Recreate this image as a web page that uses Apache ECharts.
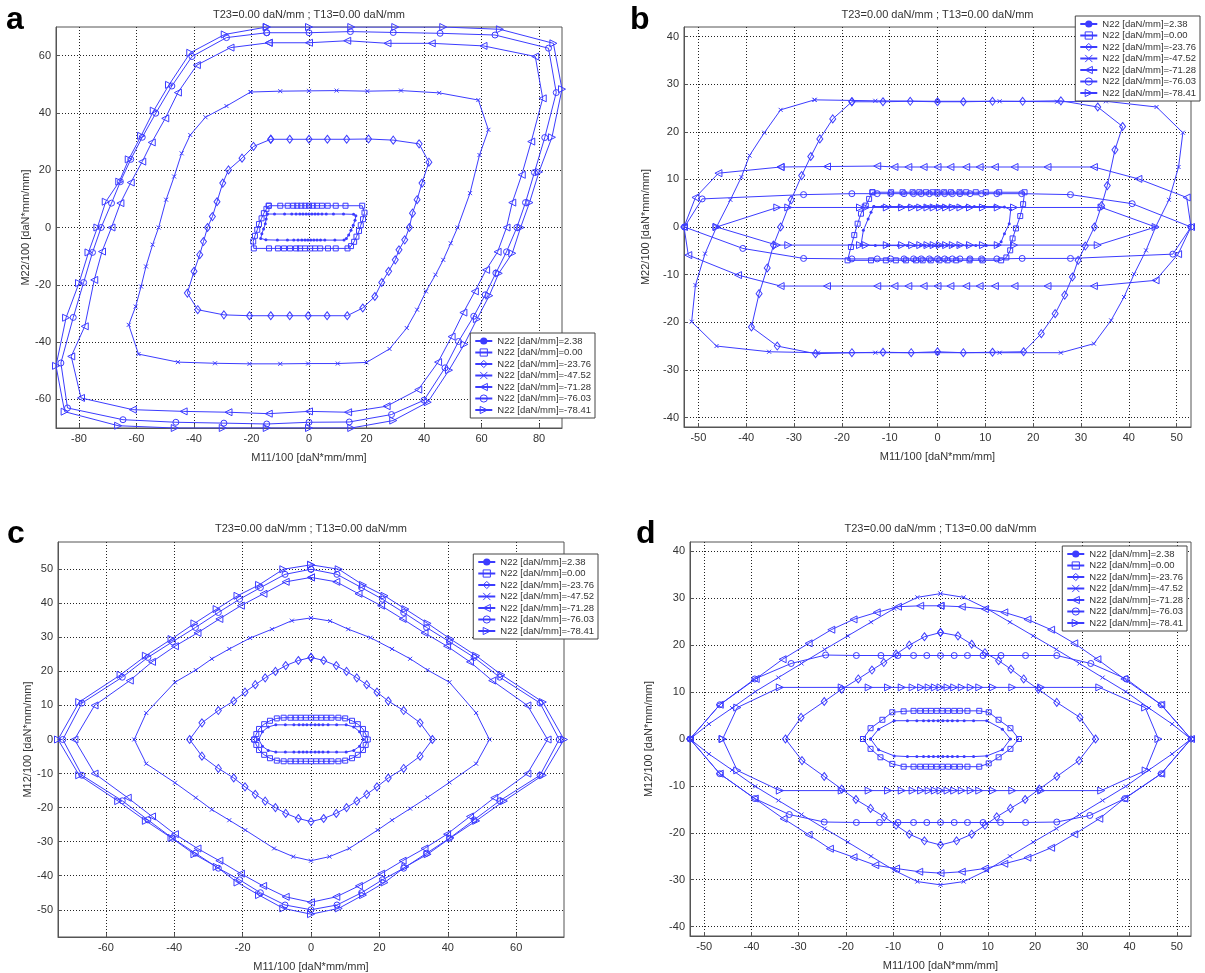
<!DOCTYPE html>
<html>
<head>
<meta charset="utf-8">
<script src="https://cdn.jsdelivr.net/npm/echarts@6/dist/echarts.min.js"></script>
<style>
  html, body { margin: 0; padding: 0; background: #fff; }
  #chart { width: 1205px; height: 973px; }
</style>
</head>
<body>
<div id="chart"></div>
<script>
// Four interaction diagrams (a–d), seven N22 levels each, MATLAB-style look

// ── Data ────────────────────────────────────────────────────────────────
const seriesNames = [
  'N22 [daN/mm]=2.38', 'N22 [daN/mm]=0.00', 'N22 [daN/mm]=-23.76', 'N22 [daN/mm]=-47.52',
  'N22 [daN/mm]=-71.28', 'N22 [daN/mm]=-76.03', 'N22 [daN/mm]=-78.41'
];
const panelTitle = 'T23=0.00 daN/mm ; T13=0.00 daN/mm';
const xName = 'M11/100 [daN*mm/mm]';
const yNameTop = 'M22/100 [daN*mm/mm]';
const yNameBottom = 'M12/100 [daN*mm/mm]';

// axis ranges and tick labels
const a_xRange = [-88, 88], a_yRange = [-70, 70];
const b_xRange = [-53, 53], b_yRange = [-42, 42];
const c_xRange = [-74, 74], c_yRange = [-58, 58];
const d_xRange = [-53, 53], d_yRange = [-42, 42];
const a_xTicks = [-80, -60, -40, -20, 0, 20, 40, 60, 80];
const a_yTicks = [-60, -40, -20, 0, 20, 40, 60];
const b_xTicks = [-50, -40, -30, -20, -10, 0, 10, 20, 30, 40, 50];
const b_yTicks = [-40, -30, -20, -10, 0, 10, 20, 30, 40];
const c_xTicks = [-60, -40, -20, 0, 20, 40, 60];
const c_yTicks = [-50, -40, -30, -20, -10, 0, 10, 20, 30, 40, 50];
const d_xTicks = [-50, -40, -30, -20, -10, 0, 10, 20, 30, 40, 50];
const d_yTicks = [-40, -30, -20, -10, 0, 10, 20, 30, 40];

// panel a : M11 vs M22
const a_n238 = [[-14.5,4.7],[-12,4.7],[-8.5,4.7],[-6,4.7],[-4.5,4.7],[-3.2,4.7],[-2.1,4.7],[-1,4.7],[0,4.7],[1,4.7],[2.1,4.7],[3.2,4.7],[4.5,4.7],[6,4.7],[8.5,4.7],[12,4.7],[15.5,4.6],[16.3,4.1],[16,2.5],[15.4,0.8],[14.6,-1],[13.8,-2.6],[13,-3.8],[12.2,-4.4],[9,-4.4],[5.5,-4.4],[4,-4.4],[2.8,-4.4],[1.7,-4.4],[0.6,-4.4],[-0.4,-4.4],[-1.4,-4.4],[-2.5,-4.4],[-3.8,-4.4],[-5.3,-4.4],[-7.5,-4.4],[-11,-4.4],[-15,-4.3],[-16.8,-3.8],[-16.4,-2.2],[-15.8,-0.5],[-15.2,1.3],[-14.9,3],[-14.5,4.7]];
const a_n000 = [[-14,7.6],[-10,7.6],[-7.4,7.6],[-5.5,7.6],[-4.1,7.6],[-2.7,7.6],[-1.3,7.6],[0,7.6],[1.3,7.6],[2.8,7.6],[4.5,7.6],[6.5,7.6],[9.3,7.6],[12.7,7.6],[18.5,7.6],[19.3,5.2],[18.8,2.9],[18,0.8],[17.4,-1.2],[16.5,-3.2],[15.7,-5],[14.6,-6.5],[13.4,-7.3],[9.3,-7.3],[6.6,-7.3],[3.9,-7.3],[2.1,-7.3],[0.4,-7.3],[-1.4,-7.3],[-3.1,-7.3],[-4.5,-7.3],[-6.6,-7.3],[-8.7,-7.3],[-10.8,-7.3],[-13.9,-7.3],[-19.2,-7.3],[-19.4,-4.9],[-18.8,-2.9],[-18,-0.8],[-17.4,1.2],[-16.5,3.2],[-15.7,5],[-14.8,6.5],[-14,7.6]];
const a_n2376 = [[-13.3,30.8],[-6.7,30.8],[0,30.8],[6.4,30.8],[13.1,30.8],[20.7,30.9],[29.3,30.5],[38.3,29.2],[41.7,22.8],[39.3,15.5],[37.6,9.7],[36,5],[34.9,0],[33.3,-4.3],[31.3,-7.8],[30,-11.3],[27.7,-15.3],[25.3,-19.2],[22.9,-24.1],[18.7,-28.1],[13.3,-30.8],[6.3,-30.8],[-0.3,-30.8],[-6.7,-30.8],[-13.3,-30.8],[-20.7,-30.8],[-29.6,-30.5],[-38.7,-28.7],[-42.3,-22.9],[-40,-15.3],[-38,-9.5],[-36.7,-4.9],[-35.3,0],[-33.6,3.8],[-32,9],[-30,15.5],[-28,20.1],[-23.3,24.2],[-19.3,28.3],[-13.3,30.8]];
const a_n4752 = [[-20.3,47.3],[-10,47.6],[0,47.7],[9.6,47.8],[20.3,47.6],[32,47.8],[45.3,47],[58.9,44.5],[62.4,34.1],[59.3,25.3],[56,12],[51.7,0],[49.3,-5.5],[46.7,-11.3],[44,-16.5],[40.7,-22.3],[37.6,-28.7],[34,-35.1],[28,-42.4],[20,-47.1],[10,-47.5],[-0.3,-47.5],[-10,-47.6],[-20.7,-47.6],[-32.7,-47.4],[-45.6,-47],[-59.3,-44.2],[-62.7,-34],[-60.3,-27.6],[-58.4,-20.6],[-56.7,-13.6],[-54.4,-6],[-52.3,0],[-49.7,9.7],[-46.9,17.8],[-44.3,25.9],[-41.3,32.3],[-36,38.5],[-28.7,42.4],[-20.3,47.3]];
const a_n7128 = [[-14,64.5],[0,64.5],[13.3,65.2],[27.3,64.3],[42.7,64.3],[60.7,63.4],[78.7,59.7],[81.3,45.1],[77.3,30],[74,18.4],[70.7,8.7],[68.7,0],[65.6,-8.5],[61.6,-14.8],[57.7,-22.3],[53.7,-29.7],[49.6,-38.1],[44.9,-47],[38,-56.6],[27,-62.4],[13.6,-64.5],[0,-64.2],[-14,-65],[-28,-64.5],[-43.6,-64.2],[-61.3,-63.6],[-79.3,-59.5],[-82.7,-45],[-78,-34.5],[-74.7,-18.3],[-72,-8.4],[-68.7,0],[-65.6,8.5],[-62,15.7],[-58,23],[-54.7,29.7],[-50,38.1],[-45.6,47.1],[-39,56.7],[-27.3,62.8],[-14,64.5]];
const a_n7603 = [[-14.7,68],[0,68],[14.4,68.4],[29.3,68.1],[45.6,67.8],[64.7,67.2],[83.3,62.6],[86,47.1],[82,31.4],[78.4,19.2],[75.3,8.7],[72.3,0],[68.7,-8.5],[65,-15.9],[61.3,-23.5],[57.3,-31],[52,-39.8],[47.3,-49],[40,-60.3],[28.7,-65.3],[14,-67.9],[0,-68],[-14.7,-68.6],[-29.6,-68.3],[-46.3,-68],[-64.7,-67.1],[-84,-63],[-86.3,-47.3],[-82,-31.4],[-78.4,-19.2],[-75.3,-8.7],[-72.3,0],[-68.7,8.5],[-65.6,16],[-62,23.8],[-58,31.5],[-53.3,39.9],[-47.7,49.4],[-40.7,59.7],[-28.7,66.3],[-14.7,68]];
const a_n7841 = [[-14.7,70],[0,70],[14.7,70],[30,70],[46.7,70],[66.4,69.2],[85,64.3],[88,48.3],[84.5,31.5],[80,19.4],[76.7,8.7],[73.6,0],[70.7,-9],[66,-16],[62.7,-23.8],[58.4,-32],[54,-40.8],[48.7,-49.8],[41.3,-61],[29.3,-67.4],[14.7,-70],[0,-70],[-14.7,-70],[-30,-70],[-46.7,-70],[-66.4,-69.2],[-85,-64.3],[-88,-48.3],[-84.5,-31.5],[-80,-19.4],[-76.7,-8.7],[-73.6,0],[-70.7,9],[-66,16],[-62.7,23.8],[-58.4,32],[-54,40.8],[-48.7,49.8],[-41.3,61],[-29.3,67.4],[-14.7,70]];

// panel b : M11 vs M22
const b_n238 = [[-13.3,4.3],[-11.6,4.3],[-9.9,4.3],[-8.1,4.3],[-6.1,4.3],[-4.7,4.3],[-3.7,4.3],[-2.6,4.3],[-1.9,4.3],[-1.3,4.3],[-0.6,4.3],[0.1,4.3],[0.8,4.3],[1.5,4.3],[2.5,4.3],[3.5,4.3],[4.6,4.3],[6,4.3],[7.7,4.3],[9.8,4.3],[11.9,4.3],[14,4.2],[15.3,3.6],[15,0.7],[14,-1.4],[13.3,-3.1],[12.6,-3.9],[10.2,-3.9],[8,-3.9],[6.1,-3.9],[4.4,-3.9],[3,-3.9],[1.9,-3.9],[1.1,-3.9],[0.4,-3.9],[-0.3,-3.9],[-1,-3.9],[-1.8,-3.9],[-2.6,-3.9],[-3.6,-3.9],[-4.8,-3.9],[-6.3,-3.9],[-8.2,-3.9],[-10.5,-3.9],[-13,-3.9],[-16,-3.8],[-15.5,-0.7],[-14.5,1.7],[-13.9,3.1],[-13.3,4.3]];
const b_n000 = [[-13.6,7.3],[-9.7,7.3],[-7.3,7.3],[-5.2,7.3],[-3.8,7.3],[-2.4,7.3],[-1,7.3],[0,7.3],[1.4,7.3],[2.8,7.3],[4.6,7.3],[6,7.3],[8,7.3],[10.1,7.3],[12.9,7.3],[18.2,7.3],[17.9,4.8],[17.3,2.3],[16.4,-0.3],[15.7,-2.4],[15.2,-4.9],[14.4,-6.4],[13.3,-7],[9.4,-7],[6.7,-7],[3.9,-7],[2.1,-7],[0.4,-7],[-1.4,-7],[-3.1,-7],[-4.5,-7],[-6.6,-7],[-8.7,-7],[-10.8,-7],[-13.9,-7],[-18.8,-7],[-18.1,-4.2],[-17.4,-1.7],[-16.7,0.7],[-16,2.8],[-15,4.5],[-14.3,5.9],[-13.6,7.3]];
const b_n2376 = [[-17.9,26.3],[-11.4,26.3],[-5.7,26.4],[0,26.3],[5.4,26.3],[11.5,26.4],[17.8,26.4],[25.8,26.5],[33.5,25.2],[38.7,21.1],[37.1,16.2],[35.5,8.7],[34.3,4.5],[32.8,0],[30.9,-4],[29.4,-7],[28.2,-10.5],[26.6,-14.3],[24.6,-18.2],[21.7,-22.4],[18,-26.2],[11.5,-26.3],[5.4,-26.4],[0,-26.2],[-5.5,-26.4],[-11.4,-26.3],[-17.9,-26.4],[-25.5,-26.6],[-33.5,-25],[-38.9,-21],[-37.3,-14],[-35.6,-8.6],[-34.3,-3.8],[-32.8,0],[-30.6,5.7],[-28.4,10.8],[-26.5,14.8],[-24.6,18.5],[-21.9,22.7],[-17.9,26.3]];
const b_n4752 = [[-25.7,26.7],[-13,26.5],[0,26.4],[13,26.4],[25,26.3],[35.2,26.4],[45.8,25.2],[51.3,19.8],[50.4,12.6],[48.4,5.7],[45.6,0],[43.6,-4.9],[41.1,-9.9],[39,-14.7],[36.3,-19.6],[32.7,-24.5],[25.8,-26.4],[13,-26.4],[0,-26.4],[-13,-26.4],[-25,-26.4],[-35.2,-26.2],[-46.2,-25],[-51.4,-19.9],[-50.6,-12.2],[-48.6,-5.6],[-46.2,0],[-43.3,5.7],[-41,10.5],[-39.3,15],[-36.2,19.8],[-32.8,24.6],[-25.7,26.7]];
const b_n7128 = [[-32.8,12.6],[-23.1,12.7],[-12.6,12.8],[-9,12.6],[-6.1,12.6],[-2.9,12.6],[0,12.6],[2.7,12.6],[6,12.6],[8.8,12.6],[12,12.6],[16.1,12.6],[23,12.6],[32.7,12.6],[42,10.1],[52.1,6.2],[53,0],[50.3,-5.7],[45.6,-11.2],[32.7,-12.4],[23,-12.4],[16.1,-12.4],[12,-12.4],[8.8,-12.4],[6,-12.4],[2.7,-12.4],[0,-12.4],[-2.9,-12.4],[-6.1,-12.4],[-9,-12.4],[-12.6,-12.4],[-23.1,-12.4],[-32.8,-12.4],[-41.7,-10.1],[-52.1,-5.9],[-53,0],[-50.6,6.2],[-45.8,11.3],[-32.8,12.6]];
const b_n7603 = [[-52.9,0],[-49.2,5.9],[-28,6.8],[-17.9,7],[-12.6,7],[-9.8,7],[-7,7],[-5,7],[-3.4,7],[-1.7,7],[0,7],[1.5,7],[3.1,7],[4.7,7],[6.8,7],[9.2,7],[12.4,7],[17.6,7],[27.8,6.8],[40.7,4.9],[53,0],[49.2,-5.7],[27.8,-6.6],[17.7,-6.6],[12.4,-6.7],[9.2,-6.7],[6.8,-6.7],[4.7,-6.7],[3.1,-6.7],[1.5,-6.7],[0,-6.7],[-1.7,-6.7],[-3.4,-6.7],[-5,-6.7],[-7,-6.7],[-9.8,-6.7],[-12.6,-6.7],[-17.9,-6.7],[-28,-6.6],[-40.7,-4.5],[-52.9,0]];
const b_n7841 = [[-46.2,0],[-33.5,4.1],[-31.2,4.1],[-16.2,4.1],[-15,4.1],[-10.6,4.1],[-7.4,4.1],[-5.3,4.1],[-3.6,4.1],[-2.1,4.1],[-0.8,4.1],[0.5,4.1],[1.8,4.1],[3.2,4.1],[4.8,4.1],[6.8,4.1],[9.5,4.1],[12.6,4.1],[16,4.1],[34.3,4.1],[45.6,0],[33.5,-3.8],[16,-3.8],[12.6,-3.8],[9.5,-3.8],[6.8,-3.8],[4.8,-3.8],[3.2,-3.8],[1.8,-3.8],[0.5,-3.8],[-0.8,-3.8],[-2.1,-3.8],[-3.6,-3.8],[-5.3,-3.8],[-7.4,-3.8],[-10.6,-3.8],[-15,-3.8],[-16.2,-3.8],[-31.2,-3.8],[-33.6,-3.8],[-46.2,0]];

// panel c : M11 vs M12
const c_n238 = [[-15.3,0],[-14.2,2.3],[-12.5,3.7],[-10.3,4.3],[-7.5,4.3],[-5,4.3],[-3.5,4.3],[-2.3,4.3],[-1.2,4.3],[0,4.3],[1.2,4.3],[2.3,4.3],[3.5,4.3],[5,4.3],[7.5,4.3],[10.3,4.3],[12.5,3.7],[14.2,2.3],[15.3,0],[14.2,-2],[12.5,-3.2],[10.3,-3.7],[7.5,-3.7],[5,-3.7],[3.5,-3.7],[2.3,-3.7],[1.2,-3.7],[0,-3.7],[-1.2,-3.7],[-2.3,-3.7],[-3.5,-3.7],[-5,-3.7],[-7.5,-3.7],[-10.3,-3.7],[-12.5,-3.2],[-14.2,-2],[-15.3,0]];
const c_n000 = [[-16.6,0],[-16,1.6],[-15.2,3.1],[-13.7,4.5],[-12,5.5],[-10,6.2],[-8,6.4],[-6,6.4],[-4.5,6.4],[-3,6.4],[-1.5,6.4],[0,6.4],[1.5,6.4],[3,6.4],[4.5,6.4],[6,6.4],[8,6.4],[10,6.2],[12,5.5],[13.7,4.5],[15.2,3.1],[16,1.6],[16.6,0],[16,-1.6],[15.2,-3.1],[13.7,-4.5],[12,-5.5],[10,-6.2],[8,-6.4],[6,-6.4],[4.5,-6.4],[3,-6.4],[1.5,-6.4],[0,-6.4],[-1.5,-6.4],[-3,-6.4],[-4.5,-6.4],[-6,-6.4],[-8,-6.4],[-10,-6.2],[-12,-5.5],[-13.7,-4.5],[-15.2,-3.1],[-16,-1.6],[-16.6,0]];
const c_n2376 = [[0,24.1],[3.7,23.2],[7.4,21.7],[10.4,20],[13.4,18.1],[16.3,16.1],[19.3,13.9],[22.6,11.3],[27.1,8.5],[31.9,4.9],[35.5,0],[31.9,-4.9],[27.1,-8.5],[22.6,-11.3],[19.3,-13.9],[16.3,-16.1],[13.4,-18.1],[10.4,-20],[7.4,-21.7],[3.7,-23.2],[0,-24.1],[-3.7,-23.2],[-7.4,-21.7],[-10.4,-20],[-13.4,-18.1],[-16.3,-16.1],[-19.3,-13.9],[-22.6,-11.3],[-27.1,-8.5],[-31.9,-4.9],[-35.5,0],[-31.9,4.9],[-27.1,8.5],[-22.6,11.3],[-19.3,13.9],[-16.3,16.1],[-13.4,18.1],[-10.4,20],[-7.4,21.7],[-3.7,23.2],[0,24.1]];
const c_n4752 = [[0,35.7],[5.6,34.8],[10.9,32.4],[17.4,29.9],[23.7,26.6],[29,23.7],[34.1,20.4],[40.5,16.8],[48.3,7.8],[52.2,0],[48.3,-7.1],[40.5,-12.6],[34.1,-17],[29,-20.3],[23.7,-23.7],[19.5,-26.6],[11.2,-32],[5.4,-34.4],[0,-35.6],[-5.2,-34.4],[-10.8,-32],[-19.2,-26.6],[-23.9,-23.7],[-29,-20.6],[-33.7,-17.1],[-39.8,-12.7],[-48.2,-7.1],[-51.7,0],[-48.2,7.8],[-39.8,16.8],[-33.7,20.4],[-29,23.7],[-23.9,26.6],[-17.8,29.8],[-11.4,32.4],[-5.6,34.9],[0,35.7]];
const c_n7128 = [[0,47.6],[7.4,46.3],[13.9,42.8],[20.5,39.3],[26.8,35.4],[33.2,31.3],[39.8,27.4],[46.5,22.8],[53,17.3],[63.3,10],[69.2,0],[63.3,-10],[53.6,-17.1],[46.5,-22.6],[39.8,-27.8],[33.2,-32],[26.8,-35.6],[20.5,-39.4],[14,-43],[7.4,-46.2],[0,-47.8],[-7.4,-46.2],[-14,-43],[-20.5,-39.4],[-26.8,-35.6],[-33.2,-32],[-39.8,-27.8],[-46.5,-22.6],[-53.6,-17.1],[-63.3,-10],[-69.2,0],[-63.3,10],[-53,17.3],[-46.5,22.8],[-39.8,27.4],[-33.2,31.3],[-26.8,35.4],[-20.5,39.3],[-13.9,42.8],[-7.4,46.3],[0,47.6]];
const c_n7603 = [[0,50],[7.6,48.5],[14.8,44.6],[20.9,41.2],[27.1,37.3],[33.8,32.9],[40.5,28.7],[47.7,24.1],[55.2,18.3],[67,10.7],[72.6,0],[67,-10.5],[55.2,-18],[47.7,-23.6],[40.5,-29],[33.8,-33.4],[27.1,-37.8],[20.9,-41.2],[14.8,-45],[7.6,-48.6],[0,-50],[-7.6,-48.6],[-14.8,-45],[-20.9,-41.2],[-27.1,-37.8],[-33.8,-33.4],[-40.5,-29],[-47.7,-23.6],[-55.2,-18],[-67,-10.5],[-72.6,0],[-67,10.7],[-55.2,18.3],[-47.7,24.1],[-40.5,28.7],[-33.8,32.9],[-27.1,37.3],[-20.9,41.2],[-14.8,44.6],[-7.6,48.5],[0,50]];
const c_n7841 = [[0,51.3],[8.1,50],[15.2,45.4],[21.5,42.2],[27.6,38.3],[34.1,34.1],[40.8,29.5],[48.3,24.6],[55.7,19],[67.8,11],[74,0],[67.8,-10.5],[56.4,-18.1],[48.3,-23.9],[40.8,-28.9],[34.1,-33.7],[27.6,-37.4],[21.5,-42],[15.2,-45.7],[8.1,-49.6],[0,-51.3],[-8.1,-49.6],[-15.2,-45.7],[-21.5,-42],[-27.6,-37.4],[-34.1,-33.7],[-40.8,-28.9],[-48.3,-23.9],[-56.4,-18.1],[-67.8,-10.5],[-74,0],[-67.8,11],[-55.7,19],[-48.3,24.6],[-40.8,29.5],[-34.1,34.1],[-27.6,38.3],[-21.5,42.2],[-15.2,45.4],[-8.1,50],[0,51.3]];

// panel d : M11 vs M12
const d_n238 = [[-14.8,0],[-13.1,2.1],[-9.8,3.9],[-7,3.9],[-5,3.9],[-3.6,3.9],[-2.5,3.9],[-1.5,3.9],[-0.5,3.9],[0.5,3.9],[1.5,3.9],[2.5,3.9],[3.6,3.9],[5,3.9],[7,3.9],[9.8,3.9],[13.1,2.1],[14.8,0],[13.1,-2.3],[9.8,-3.6],[7,-3.75],[5,-3.75],[3.6,-3.75],[2.5,-3.75],[1.5,-3.75],[0.5,-3.75],[-0.5,-3.75],[-1.5,-3.75],[-2.5,-3.75],[-3.6,-3.75],[-5,-3.75],[-7,-3.75],[-9.8,-3.6],[-13.1,-2.3],[-14.8,0]];
const d_n000 = [[-16.4,0],[-14.8,2.3],[-12.3,4.1],[-10.2,5.7],[-7.8,5.9],[-5.7,6],[-4.3,6],[-3.1,6],[-2,6],[-0.8,6],[0.4,6],[1.6,6],[2.9,6],[4.1,6],[5.7,6],[8.2,6],[10.2,5.7],[12.3,4.1],[14.8,2.3],[16.6,0],[14.8,-2.1],[12.3,-3.9],[10.2,-5.2],[8.2,-5.9],[5.7,-5.9],[4.1,-5.9],[2.9,-5.9],[1.6,-5.9],[0.4,-5.9],[-0.8,-5.9],[-2,-5.9],[-3.1,-5.9],[-4.3,-5.9],[-5.7,-5.9],[-7.8,-5.9],[-10.2,-5.3],[-12.7,-3.9],[-14.8,-2.1],[-16.4,0]];
const d_n2376 = [[0,22.7],[3.7,22],[6.6,20.2],[9.4,18.4],[12.3,16.7],[14.9,14.9],[17.6,12.8],[20.7,10.6],[24.6,7.8],[29.5,4.6],[32.8,0],[29.3,-4.6],[24.6,-8],[20.9,-10.7],[17.9,-12.9],[14.8,-14.8],[11.9,-16.6],[9.4,-18.4],[6.6,-20.3],[3.4,-21.7],[0,-22.6],[-3.4,-21.7],[-6.6,-20.3],[-9.4,-18.4],[-11.9,-16.6],[-14.8,-14.8],[-17.9,-12.9],[-20.9,-10.7],[-24.6,-8],[-29.3,-4.6],[-32.8,0],[-29.5,4.6],[-24.6,8],[-20.9,10.6],[-17.4,12.8],[-14.5,14.7],[-12,16.3],[-9.4,18.1],[-6.6,20],[-3.4,21.8],[0,22.7]];
const d_n4752 = [[0,31],[4.9,30.2],[9.8,27.8],[14.7,24.9],[19.6,22],[24.5,19.1],[29.4,16.1],[34.3,13.1],[39.2,10.1],[44.1,6.6],[49,3.2],[53,0],[49,-3.2],[44.1,-6.6],[39.2,-10.1],[34.3,-13.1],[29.4,-16.1],[24.5,-19.1],[19.6,-22],[14.7,-25],[9.8,-28],[4.9,-30.4],[0,-31.1],[-4.9,-30.4],[-9.8,-28],[-14.7,-25],[-19.6,-22],[-24.5,-19.1],[-29.4,-16.1],[-34.3,-13.1],[-39.2,-10.1],[-44.1,-6.6],[-49,-3.2],[-53,0],[-49,3.2],[-44.1,6.6],[-39.2,10.1],[-34.3,13.1],[-29.4,16.1],[-24.5,19.1],[-19.6,22],[-14.7,24.9],[-9.8,27.8],[-4.9,30.2],[0,31]];
const d_n7128 = [[0,28.4],[4.5,28.2],[9.4,27.7],[13.5,27],[18.4,25.5],[23.4,23.3],[28.3,20.4],[33.2,17],[38.9,12.8],[46.7,7.3],[53,0],[46.7,-7.4],[38.9,-12.7],[33.6,-17],[28.3,-20.3],[23.4,-23.2],[18.4,-25.3],[13.5,-26.6],[9.4,-27.6],[4.5,-28.3],[0,-28.6],[-4.5,-28.3],[-9.4,-27.6],[-13.8,-26.9],[-18.4,-25.2],[-23.4,-23.4],[-27.9,-20.4],[-33.2,-17],[-39.3,-12.7],[-46.7,-7.4],[-53,0],[-46.7,7.3],[-39.1,12.8],[-33.4,17],[-27.9,20.4],[-23.1,23.3],[-18.4,25.5],[-13.5,27],[-9,28.2],[-4.3,28.4],[0,28.4]];
const d_n7603 = [[-53,0],[-46.7,7.3],[-39.3,12.8],[-31.6,16.1],[-24.3,17.9],[-17.8,17.8],[-12.6,17.8],[-9,17.8],[-5.7,17.8],[-2.9,17.8],[0,17.8],[2.9,17.8],[5.7,17.8],[9,17.8],[12.8,17.8],[18,17.8],[24.6,17.8],[31.8,16.1],[39.3,12.8],[46.7,7.3],[53,0],[46.7,-7.4],[39,-12.7],[31.6,-16.3],[24.6,-17.7],[18,-17.8],[12.7,-17.8],[9,-17.8],[5.7,-17.8],[2.9,-17.8],[0,-17.8],[-2.9,-17.8],[-5.7,-17.8],[-9,-17.8],[-12.9,-17.8],[-17.8,-17.8],[-24.6,-17.7],[-32,-16.1],[-39.3,-12.7],[-46.7,-7.4],[-53,0]];
const d_n7841 = [[-46.1,0],[-43,6.7],[-34,11],[-20.9,11],[-15.2,11],[-11.1,11],[-8.2,11],[-5.9,11],[-4.1,11],[-2.5,11],[-1.2,11],[0,11],[1.5,11],[2.9,11],[4.5,11],[6.4,11],[8.2,11],[11.1,11],[15.2,11],[21.3,11],[33.6,11],[43.3,6.7],[46.1,0],[43.4,-6.7],[34,-11],[21.3,-11],[15.2,-11],[11.1,-11],[8.2,-11],[6.4,-11],[4.5,-11],[2.9,-11],[1.5,-11],[0,-11],[-1.2,-11],[-2.5,-11],[-4.1,-11],[-5.9,-11],[-8.2,-11],[-11.1,-11],[-15.2,-11],[-20.9,-11],[-34,-11],[-43,-6.7],[-46.1,0]];

// ── Styling ─────────────────────────────────────────────────────────────
const FONT = "'Liberation Sans', Arial, sans-serif";
const BLUE = '#3c3cff';
const HOLLOW = { color: 'rgba(255,255,255,0)', borderColor: BLUE, borderWidth: 1 };
const markers = [
  { symbol: 'circle', symbolSize: 3, itemStyle: { color: BLUE, borderWidth: 0 } },
  { symbol: 'rect', symbolSize: 5, itemStyle: HOLLOW },
  { symbol: 'diamond', symbolSize: [6, 8], itemStyle: HOLLOW },
  { symbol: 'path://M0,0L10,10M10,0L0,10', symbolSize: 4, itemStyle: HOLLOW },
  { symbol: 'triangle', symbolSize: 7, symbolRotate: 90, itemStyle: HOLLOW },
  { symbol: 'circle', symbolSize: 6, itemStyle: HOLLOW },
  { symbol: 'triangle', symbolSize: 7, symbolRotate: -90, itemStyle: HOLLOW }
];

const panels = [
  { grid: { left: 56, top: 27, width: 506, height: 401 }, xr: a_xRange, yr: a_yRange, xt: a_xTicks, yt: a_yTicks,
    yName: yNameTop, yGap: 24, xGap: 24, legend: { right: 610, top: 333 }, letter: 'a', lx: 6, ly: 4, ty: 9,
    data: [a_n238, a_n000, a_n2376, a_n4752, a_n7128, a_n7603, a_n7841] },
  { grid: { left: 684, top: 27, width: 507, height: 400 }, xr: b_xRange, yr: b_yRange, xt: b_xTicks, yt: b_yTicks,
    yName: yNameTop, yGap: 33, xGap: 24, legend: { right: 5, top: 16 }, letter: 'b', lx: 630, ly: 4, ty: 9,
    data: [b_n238, b_n000, b_n2376, b_n4752, b_n7128, b_n7603, b_n7841] },
  { grid: { left: 58, top: 542, width: 506, height: 395 }, xr: c_xRange, yr: c_yRange, xt: c_xTicks, yt: c_yTicks,
    yName: yNameBottom, yGap: 25, xGap: 24, legend: { right: 607, top: 554 }, letter: 'c', lx: 7, ly: 518, ty: 523,
    data: [c_n238, c_n000, c_n2376, c_n4752, c_n7128, c_n7603, c_n7841] },
  { grid: { left: 690, top: 542, width: 501, height: 394 }, xr: d_xRange, yr: d_yRange, xt: d_xTicks, yt: d_yTicks,
    yName: yNameBottom, yGap: 36, xGap: 24, legend: { right: 18, top: 546 }, letter: 'd', lx: 636, ly: 518, ty: 523,
    data: [d_n238, d_n000, d_n2376, d_n4752, d_n7128, d_n7603, d_n7841] }
];

const labelStyle = { fontSize: 11, color: '#333', fontFamily: FONT };

// legend entries keep the hollow look of the plot markers
const legendData = seriesNames.map((name, k) => ({ name: name, itemStyle: markers[k].itemStyle }));

const option = {
  animation: false,
  backgroundColor: '#fff',
  grid: [], xAxis: [], yAxis: [], series: [], legend: [], title: []
};

panels.forEach((p, i) => {
  option.grid.push(Object.assign({ show: true, borderColor: '#555', borderWidth: 1, backgroundColor: '#fff' }, p.grid));
  const axisCommon = (range, ticks) => ({
    gridIndex: i, type: 'value', min: range[0], max: range[1],
    axisLine: { show: true, onZero: false, lineStyle: { color: '#555', width: 1 } },
    axisTick: { show: true, inside: true, length: 4, customValues: ticks, lineStyle: { color: '#555' } },
    axisLabel: Object.assign({ customValues: ticks, margin: 5 }, labelStyle),
    splitLine: { show: true, lineStyle: { type: [1, 2], color: '#222', width: 1 } },
    nameLocation: 'middle',
    nameTextStyle: labelStyle
  });
  option.xAxis.push(Object.assign(axisCommon(p.xr, p.xt), { name: xName, nameGap: p.xGap }));
  option.yAxis.push(Object.assign(axisCommon(p.yr, p.yt), { name: p.yName, nameGap: p.yGap }));

  p.data.forEach((pts, k) => {
    option.series.push(Object.assign({
      type: 'line', name: seriesNames[k], xAxisIndex: i, yAxisIndex: i, data: pts,
      showSymbol: true, silent: true,
      lineStyle: { color: BLUE, width: 1 },
      emphasis: { disabled: true }
    }, markers[k]));
  });

  option.legend.push(Object.assign({
    orient: 'vertical', data: legendData, selectedMode: false,
    itemWidth: 17, itemHeight: 9, itemGap: 1.5, padding: [3, 4, 3, 4],
    borderColor: '#444', borderWidth: 1, backgroundColor: '#fff',
    textStyle: { fontSize: 9.5, color: '#333', fontFamily: FONT }
  }, p.legend));

  option.title.push({
    text: panelTitle, left: p.grid.left + p.grid.width / 2, top: p.ty, textAlign: 'center',
    textStyle: { fontSize: 11, fontWeight: 'normal', color: '#333', fontFamily: FONT }, padding: 0
  });
  option.title.push({
    text: p.letter, left: p.lx, top: p.ly, padding: 0,
    textStyle: { fontSize: 32, fontWeight: 'bold', color: '#000', fontFamily: FONT }
  });
});

const chart = echarts.init(document.getElementById('chart'), null, { renderer: 'canvas' });
chart.setOption(option);
</script>
</body>
</html>
